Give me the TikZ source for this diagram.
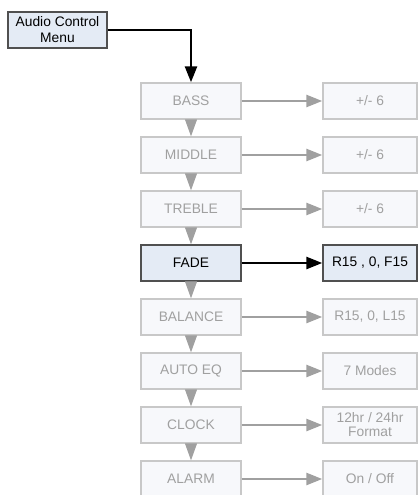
\documentclass[tikz,border=0pt]{standalone}
\usepackage{fontspec}
\setmainfont{Liberation Sans}
\usetikzlibrary{arrows.meta}
\definecolor{boxgray}{HTML}{C8C8C8}
\definecolor{boxfill}{HTML}{F7F8FB}
\definecolor{txtgray}{HTML}{A0A0A0}
\definecolor{arrgray}{HTML}{A0A0A0}
\definecolor{hifill}{HTML}{E4EBF5}
\definecolor{hiborder}{HTML}{505050}
\tikzset{
  dimbox/.style={draw=boxgray, fill=boxfill, line width=1.4pt, text=txtgray,
    minimum height=36pt, inner sep=1pt, align=center,
    font=\fontsize{13.8}{14}\selectfont},
  litbox/.style={draw=hiborder, fill=hifill, line width=1.4pt, text=black,
    minimum height=36pt, inner sep=1pt, align=center,
    font=\fontsize{13.8}{16}\selectfont},
  leftw/.style={minimum width=100pt},
  rightw/.style={minimum width=94pt},
  dimarrow/.style={draw=arrgray, line width=2.6pt, -{Triangle[length=16pt,width=12pt]}, arrgray},
  downarrow/.style={draw=arrgray, line width=1pt, -{Triangle[length=17pt,width=12pt]}, arrgray},
  litarrow/.style={draw=black, line width=2.6pt, -{Triangle[length=16pt,width=12pt]}, black}
}
\begin{document}
\begin{tikzpicture}[x=1pt,y=-1pt]
\useasboundingbox (0,0) rectangle (420,495);
\node[litbox, minimum width=99pt] (menu) at (57.5,30) {Audio Control\\Menu};
\node[dimbox, leftw] (bass) at (191,101) {BASS};
\node[dimbox, leftw] (middle) at (191,155) {MIDDLE};
\node[dimbox, leftw] (treble) at (191,209) {TREBLE};
\node[litbox, leftw] (fade) at (191,263) {FADE};
\node[dimbox, leftw] (balance) at (191,317) {BALANCE};
\node[dimbox, leftw] (autoeq) at (191,371) {AUTO EQ};
\node[dimbox, leftw] (clock) at (191,425) {CLOCK};
\node[dimbox, leftw] (alarm) at (191,479) {ALARM};
\node[dimbox, rightw] (vbass) at (370,101) {+/- 6};
\node[dimbox, rightw] (vmiddle) at (370,155) {+/- 6};
\node[dimbox, rightw] (vtreble) at (370,209) {+/- 6};
\node[litbox, rightw] (vfade) at (370,263) {R15 , 0, F15};
\node[dimbox, rightw] (vbalance) at (370,317) {R15, 0, L15};
\node[dimbox, rightw] (vautoeq) at (370,371) {7 Modes};
\node[dimbox, rightw] (vclock) at (370,425) {12hr / 24hr\\Format};
\node[dimbox, rightw] (valarm) at (370,479) {On / Off};
\draw[litarrow] (menu.east) -| (bass.north);
\draw[downarrow] (bass.south) -- (middle.north);
\draw[downarrow] (middle.south) -- (treble.north);
\draw[downarrow] (treble.south) -- (fade.north);
\draw[downarrow] (fade.south) -- (balance.north);
\draw[downarrow] (balance.south) -- (autoeq.north);
\draw[downarrow] (autoeq.south) -- (clock.north);
\draw[downarrow] (clock.south) -- (alarm.north);
\draw[dimarrow] (bass.east) -- (vbass.west);
\draw[dimarrow] (middle.east) -- (vmiddle.west);
\draw[dimarrow] (treble.east) -- (vtreble.west);
\draw[litarrow] (fade.east) -- (vfade.west);
\draw[dimarrow] (balance.east) -- (vbalance.west);
\draw[dimarrow] (autoeq.east) -- (vautoeq.west);
\draw[dimarrow] (clock.east) -- (vclock.west);
\draw[dimarrow] (alarm.east) -- (valarm.west);
\end{tikzpicture}
\end{document}
